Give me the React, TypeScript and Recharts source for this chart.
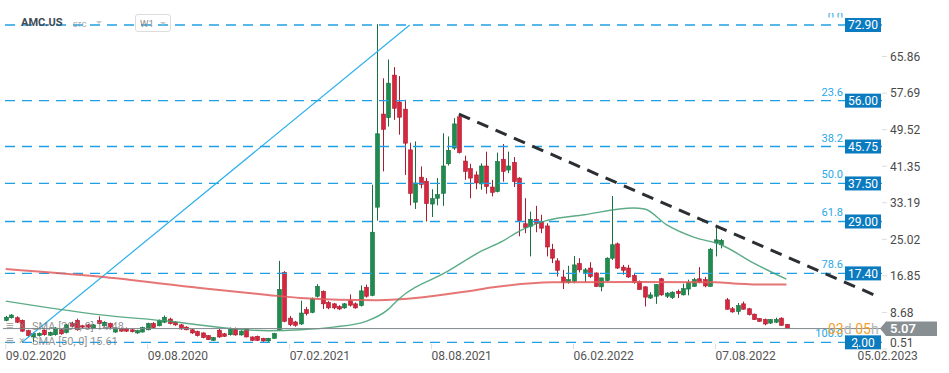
import React from 'react'
import { ComposedChart, Bar, Line, XAxis, YAxis, ReferenceLine } from 'recharts'

// weekly candles, week 0 = 09.02.2020
const opens = [
  6.9, 7.5, 7.5, 6.9, 4.6, 3.2, 3.5, 4.7, 3.6, 3.7,
  4.8, 4.2, 6.2, 6.9, 5.7, 5.9, 5.2, 6.85, 5.7, 6.2,
  4.3, 5.1, 5.1, 4.8, 4.1, 4.3, 4.8, 6.2, 5.7, 6.5,
  7.2, 6.5, 5.9, 5.4, 4.8, 4.4, 4.1, 3.5, 2.45, 4.7,
  3.9, 3.7, 5.1, 3.65, 5.0, 3.2, 3.35, 2.9, 2.3, 2.9,
  4.8, 17.6, 7.4, 6.55, 6.1, 9.3, 8.7, 12.3, 13.4, 10.9,
  10.6, 10.0, 9.7, 11.3, 10.6, 10.2, 14.3, 12.5, 32.2, 53.0,
  52.2, 61.7, 55.7, 54.1, 45.0, 33.3, 38.9, 38.0, 32.9, 34.2,
  35.3, 41.9, 45.4, 52.4, 42.5, 40.8, 39.4, 37.4, 41.4, 36.7,
  35.7, 42.9, 40.5, 42.2, 38.7, 28.5, 27.9, 29.5, 29.0, 28.0,
  22.8, 20.2, 16.6, 15.4, 15.6, 19.6, 17.6, 18.6, 17.5, 14.4,
  15.8, 20.8, 24.0, 18.8, 18.6, 16.9, 15.6, 14.4, 11.9, 12.3,
  16.2, 12.3, 12.0, 13.4, 12.6, 13.9, 14.5, 16.2, 16.0, 14.5,
  24.2, 23.8, 11.5, 9.5, 8.9, 10.6, 9.5, 8.3, 7.3, 7.1,
  6.3, 6.5, 7.4, 6.0,
]
const highs = [
  7.9, 8.3, 7.8, 7.1, 4.8, 4.3, 4.2, 4.9, 4.4, 5.4,
  5.0, 6.1, 6.6, 7.3, 5.9, 6.1, 6.1, 7.8, 6.7, 6.4,
  5.3, 5.3, 5.3, 5.0, 4.8, 5.5, 6.4, 6.5, 7.1, 8.0,
  7.5, 6.7, 6.1, 5.6, 5.0, 4.6, 4.2, 3.6, 3.2, 5.0,
  4.1, 5.3, 5.3, 4.7, 5.2, 3.3, 3.5, 3.0, 3.0, 4.1,
  20.2, 17.9, 7.9, 6.8, 11.3, 9.9, 12.0, 15.0, 13.6, 11.2,
  10.8, 10.3, 10.8, 12.7, 10.9, 14.7, 14.9, 37.2, 73.1, 61.0,
  65.2, 63.5, 61.5, 56.2, 46.6, 46.9, 41.3, 38.7, 36.2, 38.7,
  48.7, 48.0, 52.1, 53.0, 43.7, 41.9, 40.2, 42.0, 44.6, 38.3,
  44.4, 46.3, 44.6, 43.4, 38.9, 34.2, 31.2, 32.5, 30.5, 28.6,
  24.0, 20.8, 18.2, 19.1, 21.3, 20.8, 18.6, 19.9, 17.6, 16.4,
  21.0, 34.7, 24.3, 19.3, 19.3, 17.3, 15.8, 14.5, 13.2, 15.0,
  16.4, 13.2, 13.4, 13.8, 15.1, 16.0, 16.4, 18.8, 16.6, 23.1,
  27.9, 25.1, 11.9, 9.9, 10.8, 11.1, 9.7, 8.4, 7.4, 7.3,
  7.2, 7.5, 7.6, 6.1,
]
const lows = [
  6.7, 7.3, 6.3, 4.3, 3.2, 2.0, 3.3, 3.5, 3.4, 3.5,
  3.7, 4.0, 5.4, 4.6, 5.2, 5.2, 5.0, 6.0, 5.5, 5.2,
  4.1, 4.4, 4.3, 4.2, 3.9, 4.2, 4.7, 5.1, 5.6, 6.3,
  6.0, 5.7, 4.8, 4.7, 3.9, 3.3, 2.9, 2.5, 2.3, 3.0,
  3.2, 3.5, 3.5, 3.5, 3.1, 2.3, 2.3, 2.1, 2.1, 2.8,
  4.6, 6.5, 5.6, 5.5, 5.9, 8.0, 8.5, 12.0, 9.45, 9.4,
  9.4, 9.2, 9.5, 10.0, 9.5, 10.0, 12.0, 12.3, 29.2, 40.2,
  50.2, 51.7, 48.4, 39.4, 32.6, 31.8, 36.4, 29.0, 30.0, 32.6,
  32.5, 41.5, 45.0, 44.2, 38.3, 34.2, 36.2, 36.1, 35.2, 34.6,
  35.5, 37.9, 39.8, 36.7, 25.7, 26.4, 21.2, 26.6, 26.4, 21.2,
  19.7, 16.7, 13.9, 15.1, 15.2, 17.6, 15.4, 16.4, 14.4, 13.4,
  15.6, 20.4, 18.4, 17.1, 16.4, 15.1, 13.8, 10.0, 11.7, 10.6,
  12.4, 11.9, 11.7, 11.9, 12.5, 12.5, 14.4, 15.2, 14.3, 14.5,
  21.2, 23.0, 9.3, 8.6, 8.2, 9.3, 8.0, 7.0, 6.6, 5.8,
  6.1, 6.3, 5.7, 5.0,
]
const closes = [
  7.6, 8.1, 6.5, 4.5, 3.5, 4.0, 4.0, 3.7, 4.2, 5.2,
  3.9, 5.9, 5.6, 4.8, 5.4, 5.4, 5.9, 6.2, 6.5, 5.4,
  5.1, 4.5, 4.5, 4.4, 4.6, 5.3, 6.2, 5.3, 6.9, 7.6,
  6.2, 5.9, 5.0, 4.8, 4.1, 3.5, 3.05, 2.6, 3.05, 3.2,
  3.35, 5.1, 3.65, 4.5, 3.2, 2.45, 2.45, 2.3, 2.9, 3.95,
  13.8, 6.7, 5.95, 5.8, 8.55, 8.4, 11.7, 14.5, 10.6, 9.7,
  9.7, 9.45, 10.6, 10.3, 9.7, 13.5, 12.3, 26.6, 48.6, 49.6,
  59.9, 54.3, 52.3, 46.5, 35.3, 37.6, 37.3, 33.0, 34.1, 35.0,
  41.4, 44.9, 50.8, 44.4, 40.2, 38.7, 37.6, 41.4, 36.8, 35.5,
  42.4, 40.2, 41.4, 37.9, 29.2, 27.7, 29.5, 28.6, 27.5, 23.3,
  20.8, 18.1, 15.4, 16.0, 19.3, 18.2, 18.2, 16.7, 14.5, 16.4,
  20.8, 23.8, 18.6, 18.1, 16.6, 15.4, 13.8, 12.1, 12.6, 14.9,
  12.6, 13.0, 13.2, 12.9, 14.0, 15.4, 16.0, 15.5, 14.6, 22.8,
  24.9, 24.8, 9.4, 8.8, 10.2, 9.4, 8.2, 7.1, 6.7, 6.1,
  7.1, 7.1, 5.8, 5.07,
]

// moving averages (week index -> value)
const sma200Idx = [0, 17, 36, 48, 54, 61, 68, 76, 84, 90, 100, 115, 130, 134, 139, 143]
const sma200Vals = [18.4, 16.7, 14.1, 12.6, 11.9, 11.5, 11.4, 12.0, 13.3, 14.4, 15.4, 15.5, 15.4, 15.1, 14.9, 14.9]
const sma50Idx = [0, 17, 30, 42, 48, 54, 60, 66, 70, 72, 81, 87, 91, 94, 99, 106, 115, 117, 121, 126, 131, 137, 143]
const sma50Vals = [11.2, 8.2, 6.7, 5.0, 4.6, 4.8, 5.4, 6.7, 9.3, 11.7, 17.9, 22.3, 24.6, 26.8, 29.2, 30.5, 32.0, 31.8, 28.3, 25.5, 23.8, 19.7, 16.1]

const fibPcts = ['0.0', '23.6', '38.2', '50.0', '61.8', '78.6', '100.0']
const fibLevels = [72.9, 56.0, 45.75, 37.5, 29.0, 17.4, 2.0]

const yTicks = [0.51, 8.68, 16.85, 25.02, 33.19, 41.35, 49.52, 57.69, 65.86]
const yTickLabels = ['0.51', '8.68', '16.85', '25.02', '33.19', '41.35', '49.52', '57.69', '65.86']
const xTickIdx = [0, 26, 52, 78, 104, 130, 156]
const xTickLabels = ['09.02.2020', '09.08.2020', '07.02.2021', '08.08.2021', '06.02.2022', '07.08.2022', '05.02.2023']

const lastPrice = 5.07
const totalWeeks = 161

// trend lines: [week, price] pairs
const upTrend = [{ x: 3, y: 2.0 }, { x: 74, y: 72.9 }]
const downTrend = [{ x: 83, y: 53.0 }, { x: 160, y: 12.1 }]

const rows: any[] = Array.from({ length: totalWeeks }, (_, i) =>
  i < opens.length
    ? { i, range: [lows[i], highs[i]], o: opens[i], h: highs[i], l: lows[i], c: closes[i] }
    : { i, range: null }
)
sma200Idx.forEach((k, n) => { rows[k].sma200 = sma200Vals[n] })
sma50Idx.forEach((k, n) => { rows[k].sma50 = sma50Vals[n] })

const FONT = 'Roboto, "Noto Sans", sans-serif'

function Candle(props: any) {
  const { x, y, width, height, payload } = props
  if (!payload || payload.o == null) return null
  const { o, h, l, c } = payload
  const top = Math.min(y, y + height)
  const hgt = Math.abs(height)
  const px = (v: number) => top + ((h - v) / (h - l)) * hgt
  const up = c >= o
  const cx = Math.round(x + width / 2) + 0.5
  const bt = px(Math.max(o, c))
  const bb = px(Math.min(o, c))
  const fill = up ? '#1f8b4f' : '#d7263d'
  const edge = up ? '#17703f' : '#a81c2f'
  return (
    <g>
      <line x1={cx} x2={cx} y1={top} y2={top + hgt} stroke={edge} strokeWidth={1} />
      <rect x={cx - 2} y={bt} width={4} height={Math.max(1, bb - bt)} fill={fill} stroke={edge} strokeWidth={0.6} />
    </g>
  )
}

function FibLabel(props: any) {
  const { viewBox, pct, val } = props
  if (!viewBox) return null
  const r = viewBox.x + viewBox.width
  const y = viewBox.y
  const clip = pct === '0.0' ? 'url(#fibTopClip)' : undefined
  return (
    <g>
      <defs>
        <clipPath id="fibTopClip">
          <rect x={0} y={13} width={949} height={4.5} />
        </clipPath>
      </defs>
      <text x={r - 39} y={y - 5} textAnchor="end" fontSize={11} fill="#2aa8e6" fontFamily={FONT} clipPath={clip}>
        {pct}
      </text>
      <rect x={r - 37} y={y - 7} width={36} height={14} fill="#0b7bc0" />
      <text x={r - 19} y={y + 4.3} textAnchor="middle" fontSize={12} fill="#ffffff" fontFamily={FONT}>
        {val.toFixed(2)}
      </text>
    </g>
  )
}

function PriceLabel(props: any) {
  const { viewBox } = props
  if (!viewBox) return null
  const y = viewBox.y
  return (
    <g>
      <text x={828} y={y + 5} fontSize={14} fontFamily={FONT}>
        <tspan fill="#f5a02a">03</tspan>
        <tspan fill="#b5b5b5">d </tspan>
        <tspan fill="#f5a02a">05</tspan>
        <tspan fill="#b5b5b5">h</tspan>
      </text>
      <polygon
        points={`880,${y} 886,${y - 7} 937,${y - 7} 937,${y + 7.5} 886,${y + 7.5}`}
        fill="#878f93"
      />
      <text x={890} y={y + 4.6} fontSize={13} fontWeight={600} fill="#ffffff" fontFamily={FONT}>
        {lastPrice.toFixed(2)}
      </text>
    </g>
  )
}

function XTick(props: any) {
  const { x, payload } = props
  const k = xTickIdx.indexOf(payload.value)
  if (k < 0) return null
  return (
    <g>
      <line x1={x} x2={x} y1={344} y2={349} stroke="#dddddd" />
      <text x={x} y={359.5} fontSize={12} fill="#555555" fontFamily={FONT}>
        {xTickLabels[k]}
      </text>
    </g>
  )
}

function YTick(props: any) {
  const { y, payload } = props
  const k = yTicks.indexOf(payload.value)
  if (k < 0) return null
  const ty = Math.min(y, 343)
  return (
    <g>
      <line x1={882} x2={887} y1={y} y2={y} stroke="#dddddd" />
      <text x={890} y={ty + 4.3} fontSize={12} fill="#4a4a4a" fontFamily={FONT}>
        {yTickLabels[k]}
      </text>
    </g>
  )
}

const tri = (left: number, top: number) => (
  <div
    style={{
      position: 'absolute', left, top, width: 0, height: 0,
      borderLeft: '3px solid transparent', borderRight: '3px solid transparent',
      borderTop: '3px solid #c9c9c9',
    }}
  />
)

export default function App() {
  return (
    <div style={{ position: 'absolute', left: 0, top: 0, width: 949, height: 373, background: '#ffffff', fontFamily: FONT }}>
      <ComposedChart width={949} height={373} data={rows} margin={{ top: 17, right: 0, left: 3, bottom: 0 }}>
        <XAxis
          dataKey="i"
          type="category"
          ticks={xTickIdx}
          interval={0}
          height={24}
          axisLine={false}
          tickLine={false}
          tick={<XTick />}
        />
        <YAxis
          orientation="right"
          type="number"
          domain={[0.51, 74.69]}
          allowDataOverflow
          ticks={yTicks}
          interval={0}
          width={67}
          axisLine={false}
          tickLine={false}
          tick={<YTick />}
        />
        {fibLevels.map((v, n) => (
          <ReferenceLine
            key={v}
            y={v}
            stroke="#1fa0e4"
            strokeWidth={1.3}
            strokeDasharray="10 7"
            label={<FibLabel pct={fibPcts[n]} val={v} />}
          />
        ))}
        <ReferenceLine segment={upTrend} stroke="#2fb0ea" strokeWidth={1.2} ifOverflow="hidden" />
        <Line dataKey="sma200" type="monotone" connectNulls dot={false} stroke="#e25d5d" strokeOpacity={0.85} strokeWidth={2} isAnimationActive={false} />
        <Line dataKey="sma50" type="monotone" connectNulls dot={false} stroke="#3f9e72" strokeOpacity={0.85} strokeWidth={1.4} isAnimationActive={false} />
        <ReferenceLine y={lastPrice} stroke="#7f888c" strokeWidth={1} label={<PriceLabel />} />
        <Bar dataKey="range" barSize={4} shape={<Candle />} isAnimationActive={false} />
        <ReferenceLine segment={downTrend} stroke="#2b2f33" strokeWidth={3} strokeDasharray="12 8" ifOverflow="hidden" />
      </ComposedChart>

      {/* header */}
      <div style={{ position: 'absolute', left: 21, top: 16, fontSize: 11, fontWeight: 700, lineHeight: '14px', color: '#3f4b55' }}>AMC.US</div>
      <div style={{ position: 'absolute', left: 73, top: 19.5, fontSize: 7.5, lineHeight: '10px', color: '#9aa3aa' }}>STC</div>
      {tri(96, 21)}
      <div style={{ position: 'absolute', left: 135, top: 14, width: 36, height: 18, border: '1px solid #dcdcdc', borderRadius: 3, boxSizing: 'border-box' }} />
      <div style={{ position: 'absolute', left: 140, top: 17.5, fontSize: 9.5, lineHeight: '11px', color: '#8a8a8a' }}>W1</div>
      {tri(160, 22)}

      {/* legend */}
      <div style={{ position: 'absolute', left: 6, top: 318, fontSize: 13, lineHeight: '15px', color: 'rgba(140,140,140,0.8)' }}>≡</div>
      <div style={{ position: 'absolute', left: 19, top: 318, fontSize: 11, lineHeight: '15px', color: 'rgba(140,140,140,0.8)' }}>×</div>
      <div style={{ position: 'absolute', left: 32, top: 319.5, fontSize: 11, lineHeight: '13px', color: 'rgba(120,120,120,0.8)' }}>SMA [200, 0] 14.48</div>
      <div style={{ position: 'absolute', left: 6, top: 333, fontSize: 13, lineHeight: '15px', color: 'rgba(140,140,140,0.8)' }}>≡</div>
      <div style={{ position: 'absolute', left: 19, top: 333, fontSize: 11, lineHeight: '15px', color: 'rgba(140,140,140,0.8)' }}>×</div>
      <div style={{ position: 'absolute', left: 32, top: 334.5, fontSize: 11, lineHeight: '13px', color: 'rgba(120,120,120,0.8)' }}>SMA [50, 0] 15.61</div>
    </div>
  )
}
